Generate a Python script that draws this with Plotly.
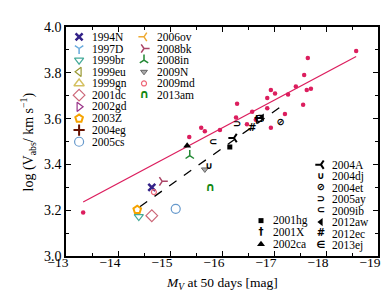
import plotly.graph_objects as go

# ---------------- data ----------------
# comparison sample (filled crimson dots) and its fit
other_x = [-13.33, -15.37, -15.60, -15.67, -15.96, -16.29, -16.27, -16.58, -16.48, -16.65,
           -16.87, -16.94, -17.02, -16.87, -16.94, -17.21, -17.27, -17.42, -17.58, -17.63,
           -17.71, -17.56, -17.65, -18.58]
other_y = [3.19, 3.52, 3.56, 3.545, 3.55, 3.665, 3.605, 3.63, 3.575, 3.595,
           3.69, 3.725, 3.71, 3.645, 3.56, 3.62, 3.705, 3.74, 3.79, 3.725,
           3.73, 3.66, 3.865, 3.895]
fit_x = [-13.33, -18.58]
fit_y = [3.236, 3.871]
dash_x = [-14.42, -17.13]
dash_y = [3.215, 3.652]

# coloured SNe (upper-left legend)
col1_names = ["1994N", "1997D", "1999br", "1999eu", "1999gn", "2001dc", "2002gd", "2003Z", "2004eg", "2005cs"]
col2_names = ["2006ov", "2008bk", "2008in", "2009N", "2009md", "2013am"]
sn_x = {"1994N": [-14.65], "1997D": [], "1999br": [-14.40], "1999eu": [], "1999gn": [],
        "2001dc": [-14.65], "2002gd": [], "2003Z": [-14.37], "2004eg": [], "2005cs": [-15.11],
        "2006ov": [], "2008bk": [-14.85], "2008in": [-15.38], "2009N": [-15.67],
        "2009md": [-14.69], "2013am": [-15.77]}
sn_y = {"1994N": [3.300], "1997D": [], "1999br": [3.172], "1999eu": [], "1999gn": [],
        "2001dc": [3.176], "2002gd": [], "2003Z": [3.202], "2004eg": [], "2005cs": [3.206],
        "2006ov": [], "2008bk": [3.326], "2008in": [3.438], "2009N": [3.378],
        "2009md": [3.279], "2013am": [3.296]}

# black SNe (lower-right legend)
colA_names = ["2001hg", "2001X", "2002ca"]
colB_names = ["2004A", "2004dj", "2004et", "2005ay", "2009ib", "2012aw", "2012ec", "2013ej"]
blk_x = {"2001hg": [-16.15], "2001X": [-16.67], "2002ca": [-15.33], "2004A": [-16.23],
         "2004dj": [-15.75], "2004et": [-17.13], "2005ay": [-16.29], "2009ib": [-15.83],
         "2012aw": [-16.77], "2012ec": [-16.58], "2013ej": [-16.71]}
blk_y = {"2001hg": [3.476], "2001X": [3.592], "2002ca": [3.481], "2004A": [3.515],
         "2004dj": [3.391], "2004et": [3.584], "2005ay": [3.575], "2009ib": [3.494],
         "2012aw": [3.605], "2012ec": [3.558], "2013ej": [3.597]}

# ---------------- styles ----------------
S = {
    "1994N": dict(symbol="x-thin", color="#332288", size=7, lw=2.5),
    "1997D": dict(symbol="y-down", color="#66aadd", size=7, lw=1.5),
    "1999br": dict(symbol="triangle-down-open", color="#44aa99", size=8, lw=1.2),
    "1999eu": dict(symbol="triangle-left-open", color="#999933", size=8, lw=1.2),
    "1999gn": dict(symbol="triangle-up-open", color="#d4c060", size=9, lw=1.4),
    "2001dc": dict(symbol="diamond-open", color="#cc6677", size=9, lw=1.2),
    "2002gd": dict(symbol="triangle-right-open", color="#993388", size=8, lw=1.2),
    "2003Z": dict(symbol="pentagon-open", color="#f5a300", size=8, lw=2),
    "2004eg": dict(symbol="cross-thin", color="#661100", size=8, lw=2),
    "2005cs": dict(symbol="circle-open", color="#6699cc", size=9, lw=1.2),
    "2006ov": dict(symbol="y-left", color="#eeaa33", size=7, lw=1.5),
    "2008bk": dict(symbol="y-right", color="#aa4466", size=7, lw=1.5),
    "2008in": dict(symbol="y-up", color="#228833", size=7, lw=1.5),
    "2009N": dict(symbol="triangle-down", color="#aaaaaa", size=6, lw=1, line="#666666"),
    "2009md": dict(symbol="circle-open", color="#ee6677", size=5, lw=1.2),
    "2013am": dict(glyph="\u2229", color="#118811", size=12),
    "2001hg": dict(symbol="square", color="black", size=5, lw=0),
    "2001X": dict(glyph="\u2020", color="black", size=10),
    "2002ca": dict(symbol="triangle-up", color="black", size=7, lw=0),
    "2004A": dict(symbol="y-left", color="black", size=7, lw=2),
    "2004dj": dict(glyph="\u222a", color="black", size=10),
    "2004et": dict(glyph="\u2298", color="black", size=10),
    "2005ay": dict(glyph="\u2283", color="black", size=10),
    "2009ib": dict(glyph="\u2282", color="black", size=10),
    "2012aw": dict(symbol="triangle-left", color="black", size=7, lw=0),
    "2012ec": dict(glyph="#", color="black", size=10),
    "2013ej": dict(glyph="\u2208", color="black", size=10),
}

CRIMSON = "#dc1e5e"
SERIF = "Liberation Serif, Times New Roman, serif"
GLYPH_FONT = "DejaVu Sans"

fig = go.Figure()

fig.add_trace(go.Scatter(x=fit_x, y=fit_y, mode="lines", line=dict(color=CRIMSON, width=1.3),
                         showlegend=False, hoverinfo="skip"))
fig.add_trace(go.Scatter(x=other_x, y=other_y, mode="markers",
                         marker=dict(color=CRIMSON, size=4.5), showlegend=False))
fig.add_trace(go.Scatter(x=dash_x, y=dash_y, mode="lines",
                         line=dict(color="black", width=1.3, dash="dash"), showlegend=False))


def add_sn(name, xs, ys, xa="x", ya="y"):
    if len(xs) == 0:
        return
    st = S[name]
    if "glyph" in st:
        fig.add_trace(go.Scatter(x=xs, y=ys, mode="text", text=[st["glyph"]] * len(xs),
                                 textposition="middle center",
                                 textfont=dict(family=GLYPH_FONT, size=st["size"], color=st["color"],
                                               weight="bold"),
                                 xaxis=xa, yaxis=ya, showlegend=False, name=name))
    else:
        fig.add_trace(go.Scatter(x=xs, y=ys, mode="markers", xaxis=xa, yaxis=ya, showlegend=False,
                                 name=name,
                                 marker=dict(symbol=st["symbol"], size=st["size"], color=st["color"],
                                             line=dict(color=st.get("line", st["color"]), width=st["lw"]))))


for n in col1_names + col2_names:
    add_sn(n, sn_x[n], sn_y[n])
for n in colA_names + colB_names:
    add_sn(n, blk_x[n], blk_y[n])

# ---------------- manual legends (in plot-area fractions) ----------------
annotations = []
LEG_FS = 11.5


def legend_column(names, key_x, label_x, y0, dy):
    for i, n in enumerate(names):
        yy = y0 - i * dy
        add_sn(n, [key_x], [yy], xa="x2", ya="y2")
        annotations.append(dict(x=label_x, y=yy, xref="paper", yref="paper", text=n, showarrow=False,
                                xanchor="left", yanchor="middle", borderpad=0,
                                font=dict(family=SERIF, size=LEG_FS, color="black")))


legend_column(col1_names, 0.042, 0.080, 0.957, 0.0509)
legend_column(col2_names, 0.250, 0.288, 0.957, 0.0509)
legend_column(colA_names, 0.625, 0.660, 0.1545, 0.0515)
legend_column(colB_names, 0.817, 0.849, 0.399, 0.0502)

# axis titles
annotations.append(dict(x=0.5, y=-0.12, xref="paper", yref="paper", showarrow=False,
                        text="<i>M</i><sub><i>V</i></sub> at 50 days [mag]",
                        xanchor="center", yanchor="middle", borderpad=0,
                        font=dict(family=SERIF, size=13.5, color="black")))
annotations.append(dict(x=-0.122, y=0.5, xref="paper", yref="paper", showarrow=False,
                        text="log (V<sub>abs</sub>/ km s<sup>\u22121</sup>)", textangle=-90,
                        xanchor="center", yanchor="middle", borderpad=0,
                        font=dict(family=SERIF, size=14, color="black")))

axis_common = dict(showline=True, linecolor="black", linewidth=1.6, mirror="ticks",
                   ticks="inside", ticklen=5, tickwidth=1, tickcolor="black",
                   showgrid=False, zeroline=False)

fig.update_layout(
    width=390, height=293,
    margin=dict(l=58, r=20, t=15, b=45),
    paper_bgcolor="white", plot_bgcolor="white",
    showlegend=False,
    xaxis=dict(range=[-13, -19], tickmode="linear", tick0=-13, dtick=1,
               minor=dict(ticks="inside", ticklen=3, dtick=0.5, tickcolor="black"),
               tickfont=dict(family=SERIF, size=13.5, color="black"),
               ticklabelstandoff=-7, ticklabelshift=8,
               **axis_common),
    yaxis=dict(range=[3.0, 4.0], tickmode="linear", tick0=3.0, dtick=0.2, tickformat=".1f",
               minor=dict(ticks="inside", ticklen=3, dtick=0.1, tickcolor="black"),
               tickfont=dict(family=SERIF, size=14, color="black"),
               **axis_common),
    xaxis2=dict(overlaying="x", range=[0, 1], visible=False, fixedrange=True),
    yaxis2=dict(overlaying="y", range=[0, 1], visible=False, fixedrange=True),
    annotations=annotations,
)

fig.write_html("out.html")
